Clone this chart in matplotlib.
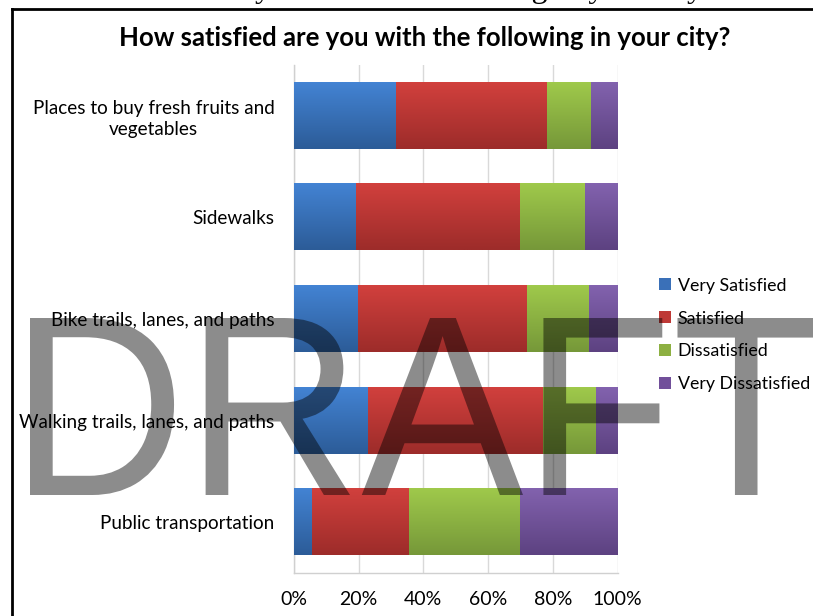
import matplotlib
matplotlib.use("Agg")
import matplotlib.pyplot as plt
import numpy as np
from matplotlib.colors import LinearSegmentedColormap
from matplotlib.lines import Line2D
from matplotlib.patches import PathPatch
from matplotlib.textpath import TextPath
from matplotlib.font_manager import FontProperties
from matplotlib.transforms import Affine2D

plt.rcParams['font.family'] = ['Lato', 'DejaVu Sans']

# survey answers, percent of respondents (top row first)
categories = ["Places to buy fresh fruits and\nvegetables",
              "Sidewalks",
              "Bike trails, lanes, and paths",
              "Walking trails, lanes, and paths",
              "Public transportation"]
very_satisfied = [31.5, 19.1, 19.8, 22.8, 5.6]
satisfied = [46.8, 50.9, 52.3, 54.1, 29.9]
dissatisfied = [13.4, 19.9, 19.1, 16.3, 34.3]
very_dissatisfied = [8.3, 10.1, 8.8, 6.8, 30.2]

series_names = ["Very Satisfied", "Satisfied", "Dissatisfied", "Very Dissatisfied"]
series_values = [very_satisfied, satisfied, dissatisfied, very_dissatisfied]
# (top shade, bottom shade) for the bar gradients
shades = [("#4383d3", "#2c5c98"),
          ("#d1403d", "#9d2c2a"),
          ("#9fc94b", "#769839"),
          ("#8262ae", "#5d4281")]
solid = ["#3a70b8", "#be3936", "#8db042", "#714f9a"]

W, H = 813, 616
fig = plt.figure(figsize=(W / 100, H / 100), dpi=100)

# chart frame: only the top and left edges fall inside the image
frame_top = 1 - 9 / H
frame_left = 11.5 / W
fig.add_artist(Line2D([frame_left, 1.01], [frame_top, frame_top], transform=fig.transFigure,
                      color="black", lw=2, solid_capstyle="projecting"))
fig.add_artist(Line2D([frame_left, frame_left], [-0.01, frame_top], transform=fig.transFigure,
                      color="black", lw=2, solid_capstyle="projecting"))

# caption line from the page above, mostly cut off
fig.text(23 / W, 1 + 3.5 / H, "How satisfied are you with the following in your city",
         family="Liberation Serif", fontsize=23, va="baseline", ha="left")

ax = fig.add_axes([294 / W, 1 - 573 / H, 323.5 / W, 508 / H])

ypos = np.arange(len(categories))
left = np.zeros(len(categories))
bar_h = 0.65
for name, vals, (c_top, c_bot), c in zip(series_names, series_values, shades, solid):
    bars = ax.barh(ypos, vals, left=left, height=bar_h, color=c, label=name, zorder=2, lw=0)
    cmap = LinearSegmentedColormap.from_list(name, [c_top, c_bot])
    grad = np.linspace(0, 1, 64).reshape(-1, 1)
    for p in bars.patches:
        x0, y0, w, h = p.get_x(), p.get_y(), p.get_width(), p.get_height()
        ax.imshow(grad, cmap=cmap, extent=(x0, x0 + w, y0 + h, y0), origin="upper",
                  aspect="auto", zorder=3, interpolation="bilinear")
    left += np.array(vals)

ax.set_xlim(0, 100)
ax.set_ylim(len(categories) - 0.5, -0.5)
ax.set_yticks(ypos)
ax.set_yticklabels(categories, fontsize=13.6, multialignment="center", linespacing=1.25)
ax.set_xticks(np.arange(0, 101, 20))
ax.set_xticklabels([f"{v}%" for v in range(0, 101, 20)], fontsize=14)
ax.tick_params(axis="both", length=0)
ax.tick_params(axis="x", pad=13)
ax.tick_params(axis="y", pad=14)
ax.grid(axis="x", color="#d9d9d9", lw=1, zorder=0)
ax.set_axisbelow(True)
for s in ["top", "right"]:
    ax.spines[s].set_visible(False)
for s in ["left", "bottom"]:
    ax.spines[s].set_color("#d0d0d0")
    ax.spines[s].set_linewidth(1)

fig.text(425 / W, 1 - 38 / H, "How satisfied are you with the following in your city?",
         fontsize=18.5, fontweight="bold", ha="center", va="center")

handles, labels = ax.get_legend_handles_labels()
fig.legend(handles, labels, loc="center left", bbox_to_anchor=(659 / W, 1 - 335 / H),
           frameon=False, fontsize=12.8, handlelength=0.65, handleheight=0.65,
           handletextpad=0.4, labelspacing=0.95, borderpad=0, borderaxespad=0)

# DRAFT watermark over everything
tp = TextPath((0, 0), "DRAFT", size=100, prop=FontProperties(family="Liberation Sans"))
bb = tp.get_extents()
x0_px, x1_px, ybot_px, ytop_px = 30, 815, H - 495, H - 318
tr = (Affine2D().translate(-bb.x0, -bb.y0)
      .scale((x1_px - x0_px) / bb.width / W, (ytop_px - ybot_px) / bb.height / H)
      .translate(x0_px / W, ybot_px / H) + fig.transFigure)
fig.add_artist(PathPatch(tp, transform=tr, facecolor="black", alpha=0.45, lw=0, zorder=10))

fig.savefig("out.png", dpi=100)
